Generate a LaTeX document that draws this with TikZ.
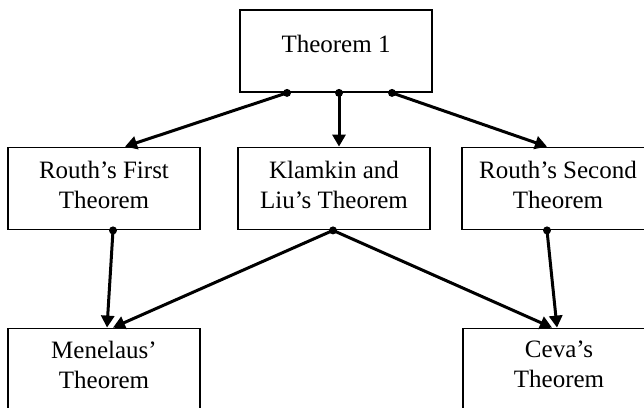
\documentclass[tikz,border=0pt]{standalone}
\usepackage{fontspec}
\setmainfont{Liberation Serif}
\usetikzlibrary{arrows.meta}

\newcommand{\lowpad}[1]{\rule[-#1]{0pt}{#1}}

\begin{document}
\begin{tikzpicture}[
			x=1pt, y=-1pt,
			box/.style={
					draw,
					line width=1.8pt,
					align=center,
					font=\fontsize{25}{30}\selectfont,
					minimum width=192pt,
					minimum height=82pt,
					inner sep=0pt
				},
			link/.style={line width=3pt, -{Triangle[length=12pt,width=13pt]}},
			dot/.style={circle, fill, inner sep=0pt, minimum size=8pt}
		]
		\useasboundingbox (0,0) rectangle (644,407);

		\node[box, text depth=15pt] (thm) at (336,51) {Theorem 1};
		\node[box] (routhA) at (104,188.5) {Routh’s First \\ Theorem\lowpad{8pt}};
		\node[box] (klamkin) at (334,188.5) {Klamkin and \\ Liu’s Theorem\lowpad{8pt}};
		\node[box] (routhB) at (558,188.5) {Routh’s Second \\ Theorem\lowpad{8pt}};
		\node[box] (menelaus) at (104,369.5) {Menelaus’ \\ Theorem\lowpad{10pt}};
		\node[box] (ceva) at (559,369.5) {Ceva’s \\ Theorem\lowpad{10pt}};

		% start points on the lower edges
		\node[dot] (thmL) at ([xshift=-49pt]thm.south) {};
		\node[dot] (thmM) at ([xshift=3pt]thm.south) {};
		\node[dot] (thmR) at ([xshift=56pt]thm.south) {};
		\node[dot] (routhAo) at ([xshift=9pt]routhA.south) {};
		\node[dot] (klamkinO) at ([xshift=-1pt]klamkin.south) {};
		\node[dot] (routhBo) at ([xshift=-11pt]routhB.south) {};

		% end points on the upper edges
		\coordinate (routhAi) at ([xshift=21pt]routhA.north);
		\coordinate (klamkinI) at ([xshift=5pt]klamkin.north);
		\coordinate (routhBi) at ([xshift=-11pt]routhB.north);
		\coordinate (menelausA) at ([xshift=3pt]menelaus.north);
		\coordinate (menelausB) at ([xshift=9pt]menelaus.north);
		\coordinate (cevaA) at ([xshift=-7pt]ceva.north);
		\coordinate (cevaB) at ([xshift=-2pt]ceva.north);

		\draw[link] (thmL.center) -- (routhAi);
		\draw[link] (thmM.center) -- (klamkinI);
		\draw[link] (thmR.center) -- (routhBi);
		\draw[link] (routhAo.center) -- (menelausA);
		\draw[link] (klamkinO.center) -- (menelausB);
		\draw[link] (klamkinO.center) -- (cevaA);
		\draw[link] (routhBo.center) -- (cevaB);
	\end{tikzpicture}
\end{document}
